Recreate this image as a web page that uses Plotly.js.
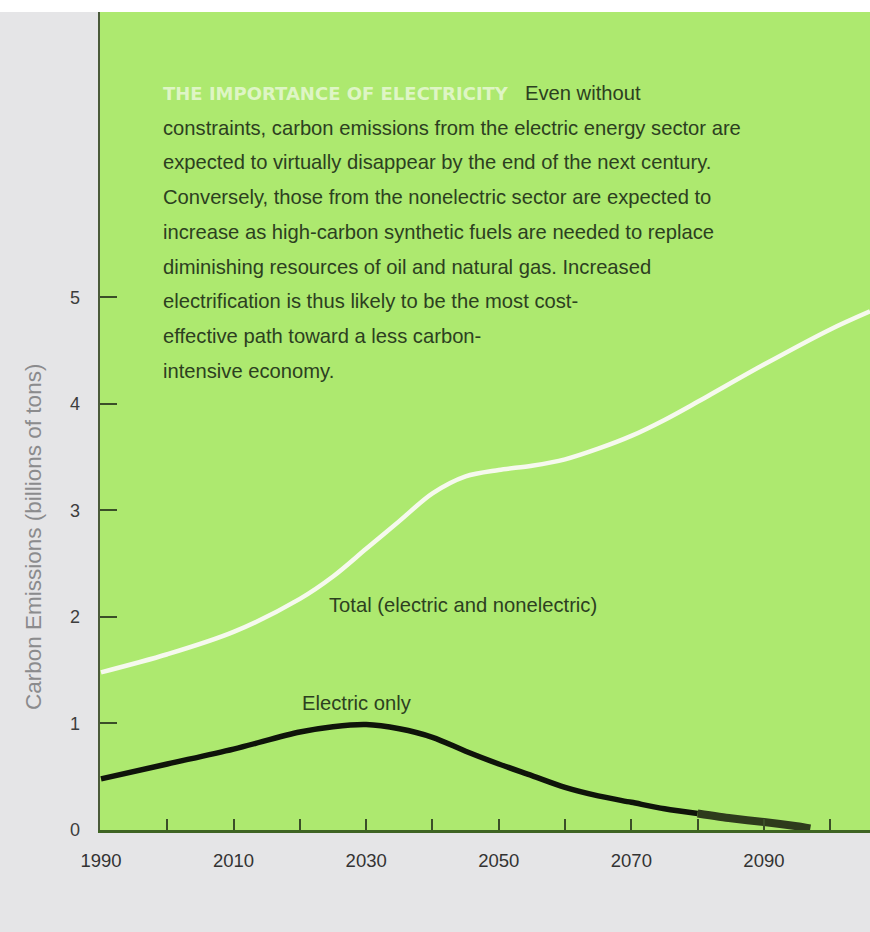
<!DOCTYPE html>
<html>
<head>
<meta charset="utf-8">
<script src="https://cdn.plot.ly/plotly-3.0.1.min.js"></script>
<style>
  html, body { margin: 0; padding: 0; background: #e5e5e7; }
  #chart { width: 870px; height: 932px; }
</style>
</head>
<body>
<div id="chart"></div>
<script>
// Carbon emissions projections, billions of tons
const totalYears = [1990, 2000, 2010, 2020, 2025, 2030, 2035, 2040, 2045, 2050, 2055, 2060, 2065, 2070, 2075, 2080, 2090, 2100, 2106];
const totalValues = [1.48, 1.65, 1.86, 2.17, 2.38, 2.64, 2.90, 3.16, 3.32, 3.38, 3.42, 3.48, 3.58, 3.70, 3.85, 4.02, 4.37, 4.70, 4.87];

const electricYears = [1990, 2000, 2010, 2020, 2025, 2030, 2035, 2040, 2045, 2050, 2055, 2060, 2065, 2070, 2075, 2080, 2085, 2090, 2095, 2097];
const electricValues = [0.48, 0.62, 0.76, 0.92, 0.97, 0.99, 0.95, 0.87, 0.74, 0.62, 0.51, 0.40, 0.32, 0.26, 0.20, 0.155, 0.11, 0.075, 0.035, 0.015];

// the tail of the electric curve is drawn heavier from this year on
const tailStartYear = 2080;

const xTickYears = [1990, 2000, 2010, 2020, 2030, 2040, 2050, 2060, 2070, 2080, 2090, 2100];
const xTickLabels = ['1990', '', '2010', '', '2030', '', '2050', '', '2070', '', '2090', ''];
const yTickValues = [0, 1, 2, 3, 4, 5];
const yTickLabels = ['0', '1', '2', '3', '4', '5'];

const yAxisTitle = 'Carbon Emissions (billions of tons)';
const totalLabel = 'Total (electric and nonelectric)';
const electricLabel = 'Electric only';
const noteHeading = 'THE IMPORTANCE OF ELECTRICITY';
const noteLines = [
  'Even without',
  'constraints, carbon emissions from the electric energy sector are',
  'expected to virtually disappear by the end of the next century.',
  'Conversely, those from the nonelectric sector are expected to',
  'increase as high-carbon synthetic fuels are needed to replace',
  'diminishing resources of oil and natural gas. Increased',
  'electrification is thus likely to be the most cost-',
  'effective path toward a less carbon-',
  'intensive economy.'
];

// page geometry (pixels)
const W = 870, H = 932;
const M = { l: 100, r: 0, t: 12, b: 102 };
const plotW = W - M.l - M.r, plotH = H - M.t - M.b;
const px2paperX = px => (px - M.l) / plotW;
const px2paperY = py => 1 - (py - M.t) / plotH;

const tailIdx = electricYears.indexOf(tailStartYear);

const FONT = '"Liberation Sans", Arial, Helvetica, sans-serif';
const TEXT_GREEN = '#2c401f';
const TEXT_SIZE = 20.2;

const traces = [
  {
    x: totalYears, y: totalValues, type: 'scatter', mode: 'lines',
    line: { color: '#f6f9ee', width: 4.5, shape: 'spline', smoothing: 0.9 },
    hoverinfo: 'skip', showlegend: false
  },
  {
    x: electricYears.slice(0, tailIdx + 1), y: electricValues.slice(0, tailIdx + 1),
    type: 'scatter', mode: 'lines',
    line: { color: '#0f140a', width: 5.5, shape: 'spline', smoothing: 0.9 },
    hoverinfo: 'skip', showlegend: false
  },
  {
    x: electricYears.slice(tailIdx), y: electricValues.slice(tailIdx),
    type: 'scatter', mode: 'lines',
    line: { color: '#2e3b1c', width: 8, shape: 'spline', smoothing: 0.6 },
    hoverinfo: 'skip', showlegend: false
  }
];

const annotations = [];
const lineStep = 34.7, firstLineY = 93, textLeft = 161;

annotations.push({
  xref: 'paper', yref: 'paper', x: px2paperX(textLeft), y: px2paperY(firstLineY),
  xanchor: 'left', yanchor: 'middle', showarrow: false,
  text: noteHeading,
  font: { family: '"DejaVu Sans", sans-serif', size: 18, color: 'rgba(232,248,214,0.85)', weight: 700 }
});
noteLines.forEach((line, i) => {
  annotations.push({
    xref: 'paper', yref: 'paper',
    x: px2paperX(i === 0 ? 523 : textLeft), y: px2paperY(firstLineY + i * lineStep),
    xanchor: 'left', yanchor: 'middle', showarrow: false,
    text: line,
    font: { family: FONT, size: TEXT_SIZE, color: TEXT_GREEN }
  });
});

annotations.push({
  xref: 'x', yref: 'y', x: 2024.1, y: 2.11, xanchor: 'left', yanchor: 'middle',
  showarrow: false, text: totalLabel,
  font: { family: FONT, size: TEXT_SIZE, color: TEXT_GREEN }
});
annotations.push({
  xref: 'x', yref: 'y', x: 2020.0, y: 1.19, xanchor: 'left', yanchor: 'middle',
  showarrow: false, text: electricLabel,
  font: { family: FONT, size: TEXT_SIZE, color: TEXT_GREEN }
});
annotations.push({
  xref: 'paper', yref: 'paper', x: px2paperX(33), y: px2paperY(537),
  xanchor: 'center', yanchor: 'middle', showarrow: false, textangle: -90,
  text: yAxisTitle,
  font: { family: FONT, size: 22.5, color: '#8b8b8d' }
});

const layout = {
  width: W, height: H,
  margin: M,
  paper_bgcolor: '#e5e5e7',
  plot_bgcolor: '#ade96f',
  showlegend: false,
  xaxis: {
    range: [1989.85, 2106], fixedrange: true,
    tickmode: 'array', tickvals: xTickYears, ticktext: xTickLabels,
    ticks: 'inside', ticklen: 11, tickwidth: 2, tickcolor: '#3a4f28',
    showline: true, linecolor: '#3f6424', linewidth: 3,
    showgrid: false, zeroline: false,
    ticklabelstandoff: 12,
    tickfont: { family: FONT, size: 18.5, color: '#333333' }
  },
  yaxis: {
    range: [0, 7.68], fixedrange: true,
    tickmode: 'array', tickvals: yTickValues, ticktext: yTickLabels,
    ticks: 'inside', ticklen: 17, tickwidth: 2, tickcolor: '#3a4f28',
    showline: true, linecolor: '#4a5a3a', linewidth: 2.5,
    showgrid: false, zeroline: false,
    ticklabelstandoff: 14,
    tickfont: { family: FONT, size: 18, color: '#3d3d3d' }
  },
  shapes: [
    { type: 'rect', xref: 'paper', yref: 'paper',
      x0: -M.l / plotW, x1: 1, y0: 1, y1: 1 + M.t / plotH,
      fillcolor: '#ffffff', line: { width: 0 }, layer: 'below' }
  ],
  annotations: annotations
};

Plotly.newPlot('chart', traces, layout, { displayModeBar: false, staticPlot: true });
</script>
</body>
</html>
